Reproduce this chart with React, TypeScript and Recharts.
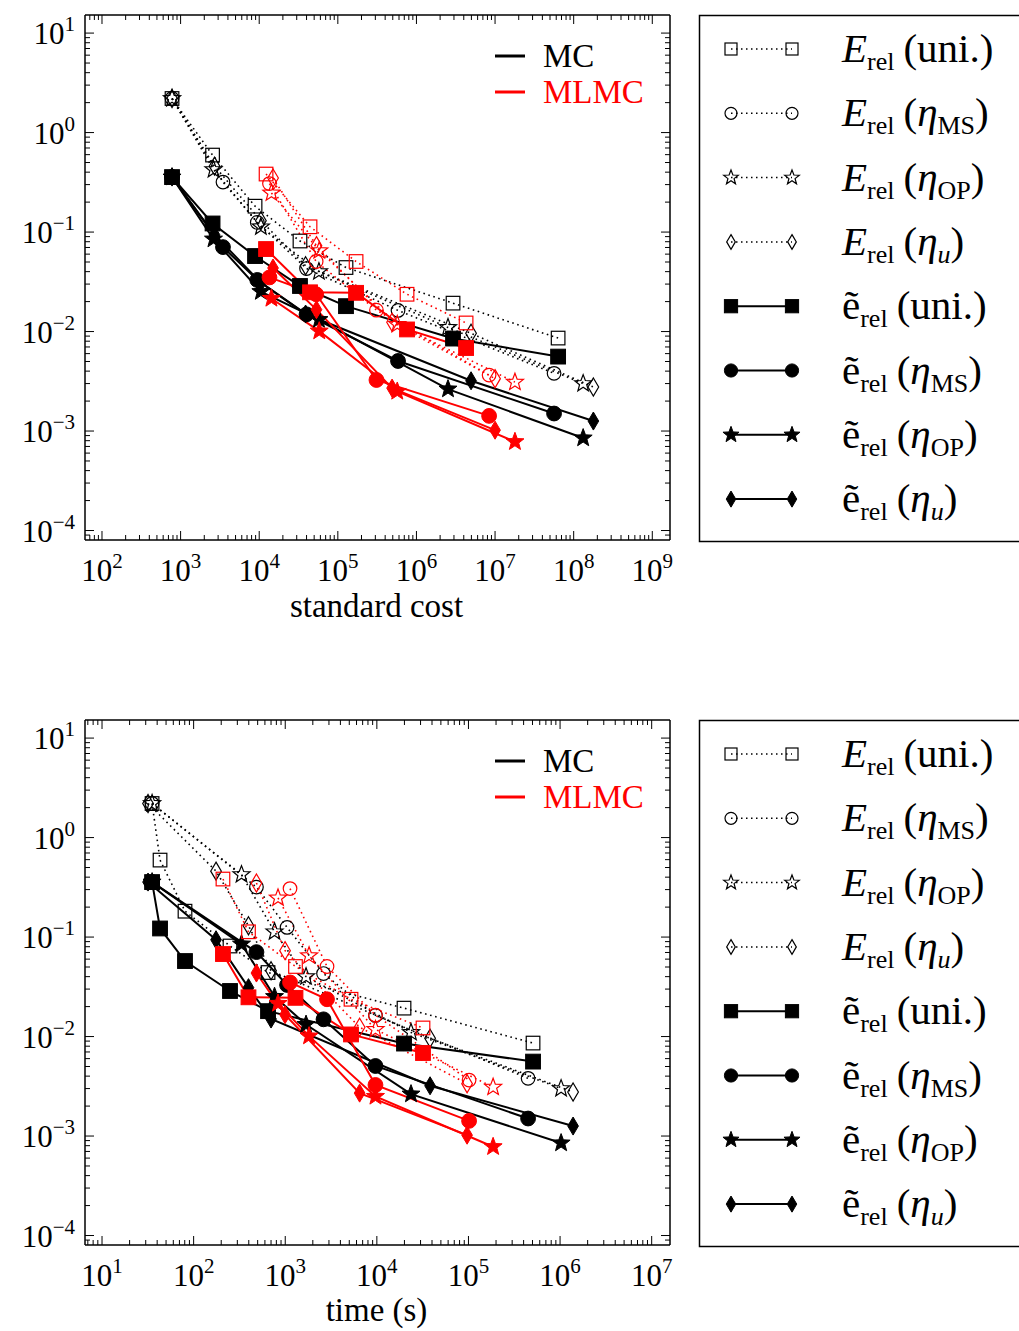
import React from 'react';
import { LineChart, Line, XAxis, YAxis, ReferenceLine, Legend } from 'recharts';

// ---------------- DATA ----------------
// Monte Carlo (MC): standard cost and wall time of each run, per estimator
const mcCostUni = [778, 2550, 8850, 33000, 127000, 2.92e6, 6.34e7];
const mcCostMS = [778, 3460, 9450, 40000, 583000, 5.63e7];
const mcCostOP = [778, 2620, 10500, 57500, 2.52e6, 1.32e8];
const mcCostU = [778, 2700, 10500, 38900, 4.95e6, 1.78e8];

const mcTimeUni = [35.2, 43.0, 80.5, 249.5, 649, 19800, 507000];
const mcTimeMS = [35.2, 485, 1047, 2618, 9660, 447700];
const mcTimeOP = [35.2, 333, 764, 1687, 23600, 1.026e6];
const mcTimeU = [31.8, 175.6, 397, 700, 38100, 1.387e6];

// MC errors: E_rel (dotted, open markers) and e~_rel (solid, filled markers)
const mcEUni = [2.2, 0.594, 0.182, 0.0813, 0.044, 0.0193, 0.0086];
const mcEMS = [2.2, 0.318, 0.125, 0.043, 0.0163, 0.0038];
const mcEOP = [2.2, 0.425, 0.113, 0.04, 0.011, 0.003];
const mcEU = [2.2, 0.46, 0.13, 0.0458, 0.0096, 0.00277];

const mcETildeUni = [0.357, 0.122, 0.0574, 0.0287, 0.018, 0.0085, 0.0056];
const mcETildeMS = [0.357, 0.0706, 0.033, 0.0149, 0.00506, 0.0015];
const mcETildeOP = [0.357, 0.085, 0.0252, 0.0132, 0.00264, 0.00085];
const mcETildeU = [0.357, 0.094, 0.031, 0.015, 0.0032, 0.00126];

// Multilevel Monte Carlo (MLMC)
const mlmcCostUni = [12220, 44300, 170600, 759000, 4.28e6];
const mlmcCostMS = [13500, 53000, 310000, 8.4e6];
const mlmcCostOP = [14300, 58000, 570000, 1.79e7];
const mlmcCostU = [14990, 53500, 489700, 1.0e7];

const mlmcTimeUni = [209, 397, 1294, 5224, 31900];
const mlmcTimeMS = [1128, 2858, 9660, 101600];
const mlmcTimeOP = [834, 1820, 9660, 185800];
const mlmcTimeU = [485, 995, 6486, 96600];

const mlmcEUni = [0.383, 0.113, 0.0506, 0.0237, 0.0122];
const mlmcEMS = [0.307, 0.0506, 0.0164, 0.00365];
const mlmcEOP = [0.247, 0.065, 0.0118, 0.0031];
const mlmcEU = [0.349, 0.073, 0.0124, 0.00336];

const mlmcETildeUni = [0.0675, 0.0248, 0.0245, 0.0105, 0.00683];
const mlmcETildeMS = [0.035, 0.0237, 0.00326, 0.00142];
const mlmcETildeOP = [0.0215, 0.0101, 0.0025, 0.00078];
const mlmcETildeU = [0.0435, 0.0166, 0.0027, 0.00102];

// axis tick labels (powers of ten)
const costMajorTicks = [1e2, 1e3, 1e4, 1e5, 1e6, 1e7, 1e8, 1e9];
const timeMajorTicks = [1e1, 1e2, 1e3, 1e4, 1e5, 1e6, 1e7];
const errMajorTicks = [1e-4, 1e-3, 1e-2, 1e-1, 1e0, 1e1];

const costDomain = [60.8, 1.68e9];
const timeDomain = [6.52, 1.585e7];
const errDomain = [8.03e-5, 15.2];

const seriesLabels = ['MC', 'MLMC'];
const estimatorLabels = ['uni.', 'MS', 'OP', 'u'];

// ---------------- STYLE ----------------
const FONT = '"Liberation Serif", "DejaVu Serif", serif';
const BLACK = '#000000';
const RED = '#ff0000';
const shapes = ['square', 'circle', 'star', 'diamond'];

const PLOT_LEFT = 85;
const PLOT_RIGHT = 670;
const PLOT_TOP = 15;
const PLOT_H = 525;
const PLOT_BOTTOM = PLOT_TOP + PLOT_H;
const WIDTH = 1019;

function withMinors(majors: number[], domain: number[]) {
  const lo = Math.floor(Math.log10(domain[0]));
  const hi = Math.ceil(Math.log10(domain[1]));
  const out: number[] = [];
  for (let k = lo; k <= hi; k++) {
    for (let m = 1; m <= 9; m++) {
      const v = m === 1 ? Math.pow(10, k) : m * Math.pow(10, k);
      if (v >= domain[0] && v <= domain[1]) out.push(v);
    }
  }
  majors.forEach((v) => {
    if (!out.some((o) => Math.abs(o - v) / v < 1e-9)) out.push(v);
  });
  return out.sort((a, b) => a - b);
}

const fmtExp = (n: number) => (n < 0 ? '\u2212' + Math.abs(n) : String(n));
const isMajor = (v: number) => {
  const lg = Math.log10(v);
  return Math.abs(lg - Math.round(lg)) < 1e-6;
};

function Marker({ shape, cx, cy, filled, color, s }: any) {
  const fill = filled ? color : 'none';
  const sw = filled ? 1 : 1.2;
  if (shape === 'square') {
    return <rect x={cx - s} y={cy - s} width={2 * s} height={2 * s} fill={fill} stroke={color} strokeWidth={sw} />;
  }
  if (shape === 'circle') {
    return <circle cx={cx} cy={cy} r={s} fill={fill} stroke={color} strokeWidth={sw} />;
  }
  if (shape === 'diamond') {
    const w = s * 0.72;
    const h = s * 1.22;
    return (
      <path
        d={`M${cx},${cy - h}L${cx + w},${cy}L${cx},${cy + h}L${cx - w},${cy}Z`}
        fill={fill}
        stroke={color}
        strokeWidth={sw}
      />
    );
  }
  // star
  const R = s * 1.28;
  const r = R * 0.42;
  let d = '';
  for (let i = 0; i < 10; i++) {
    const rad = i % 2 === 0 ? R : r;
    const a = -Math.PI / 2 + (i * Math.PI) / 5;
    d += (i === 0 ? 'M' : 'L') + (cx + rad * Math.cos(a)).toFixed(2) + ',' + (cy + rad * Math.sin(a)).toFixed(2);
  }
  d += 'Z';
  return <path d={d} fill={fill} stroke={color} strokeWidth={sw} strokeLinejoin="miter" />;
}

const dotFn = (shape: string, filled: boolean, color: string, s: number) => (p: any) => {
  if (p.cx == null || p.cy == null) return <g key={`e${p.index}`} />;
  return <Marker key={`m${p.index}`} shape={shape} cx={p.cx} cy={p.cy} filled={filled} color={color} s={s} />;
};

const markerSize = (shape: string, filled: boolean) => {
  if (shape === 'square') return filled ? 7.4 : 6.8;
  if (shape === 'circle') return filled ? 7.4 : 6.8;
  if (shape === 'star') return filled ? 7.4 : 7.0;
  return 7.4;
};

const XTick = (props: any) => {
  const { x, payload } = props;
  const v = payload.value;
  const major = isMajor(v);
  const len = major ? 9 : 5;
  return (
    <g>
      <line x1={x} x2={x} y1={PLOT_BOTTOM} y2={PLOT_BOTTOM - len} stroke={BLACK} strokeWidth={1} />
      <line x1={x} x2={x} y1={PLOT_TOP} y2={PLOT_TOP + len} stroke={BLACK} strokeWidth={1} />
      {major && (
        <text x={x} y={PLOT_BOTTOM + 41} textAnchor="middle" fontFamily={FONT} fontSize={31} fill={BLACK}>
          10
          <tspan dy={-13} fontSize={21}>
            {fmtExp(Math.round(Math.log10(v)))}
          </tspan>
        </text>
      )}
    </g>
  );
};

const YTick = (props: any) => {
  const { y, payload } = props;
  const v = payload.value;
  const major = isMajor(v);
  const len = major ? 9 : 5;
  return (
    <g>
      <line x1={PLOT_LEFT} x2={PLOT_LEFT + len} y1={y} y2={y} stroke={BLACK} strokeWidth={1} />
      <line x1={PLOT_RIGHT} x2={PLOT_RIGHT - len} y1={y} y2={y} stroke={BLACK} strokeWidth={1} />
      {major && (
        <text x={PLOT_LEFT - 10} y={y + 11} textAnchor="end" fontFamily={FONT} fontSize={31} fill={BLACK}>
          10
          <tspan dy={-13} fontSize={21}>
            {fmtExp(Math.round(Math.log10(v)))}
          </tspan>
        </text>
      )}
    </g>
  );
};

const AxisTitle = ({ text, baseline }: any) => (
  <text
    x={(PLOT_LEFT + PLOT_RIGHT) / 2 - 1}
    y={baseline}
    textAnchor="middle"
    fontFamily={FONT}
    fontSize={33}
    fill={BLACK}
  >
    {text}
  </text>
);

function LegendLabel({ i, x, y }: any) {
  const tilde = i >= 4;
  const k = i % 4;
  const est = estimatorLabels[k];
  const fs = 41;
  const sub = 26;
  const dd = 8;
  return (
    <text x={x} y={y} fontFamily={FONT} fontSize={fs} fill={BLACK}>
      {tilde ? <tspan>{'\u1EBD'}</tspan> : <tspan fontStyle="italic">E</tspan>}
      <tspan fontSize={sub} dy={dd}>rel</tspan>
      {k === 0 ? (
        <tspan dy={-dd} dx={9}>{'(' + est + ')'}</tspan>
      ) : (
        <>
          <tspan dy={-dd} dx={9}>{'('}</tspan>
          <tspan fontStyle="italic">{'\u03B7'}</tspan>
          <tspan fontSize={sub} dy={dd} fontStyle={k === 3 ? 'italic' : 'normal'}>
            {est}
          </tspan>
          <tspan dy={-dd}>)</tspan>
        </>
      )}
    </text>
  );
}

const LegendOverlay = ({ height, titleText, titleBaseline }: any) => {
  const rows = [0, 1, 2, 3, 4, 5, 6, 7];
  return (
    <svg width={WIDTH} height={height} style={{ display: 'block' }}>
      {/* MC / MLMC key inside the plot */}
      <line x1={495} x2={525} y1={56} y2={56} stroke={BLACK} strokeWidth={3} />
      <text x={543} y={67} fontFamily={FONT} fontSize={33} fill={BLACK}>
        {seriesLabels[0]}
      </text>
      <line x1={495} x2={525} y1={92} y2={92} stroke={RED} strokeWidth={3} />
      <text x={543} y={103} fontFamily={FONT} fontSize={33} fill={RED}>
        {seriesLabels[1]}
      </text>
      {/* estimator key box */}
      <rect x={699.5} y={15.5} width={340} height={526} fill="#ffffff" stroke={BLACK} strokeWidth={1.5} />
      {rows.map((i) => {
        const cy = 49 + i * 64.3;
        const filled = i >= 4;
        const shape = shapes[i % 4];
        const s = filled ? 6.6 : 6.0;
        return (
          <g key={i}>
            <line
              x1={731}
              x2={792}
              y1={cy}
              y2={cy}
              stroke={BLACK}
              strokeWidth={filled ? 2 : 1.5}
              strokeDasharray={filled ? undefined : '1.5 3.5'}
            />
            <Marker shape={shape} cx={731} cy={cy} filled={filled} color={BLACK} s={s} />
            <Marker shape={shape} cx={792} cy={cy} filled={filled} color={BLACK} s={s} />
            <LegendLabel i={i} x={842} y={cy + 13} />
          </g>
        );
      })}
      {/* x-axis title */}
      <AxisTitle text={titleText} baseline={titleBaseline} />
    </svg>
  );
};

type Spec = { xs: number[]; ys: number[]; shape: string; filled: boolean; color: string };

function buildSeries(
  mcX: number[][],
  mlmcX: number[][],
  mcE: number[][],
  mcT: number[][],
  mlE: number[][],
  mlT: number[][]
): Spec[] {
  const out: Spec[] = [];
  for (let k = 0; k < 4; k++) out.push({ xs: mcX[k], ys: mcE[k], shape: shapes[k], filled: false, color: BLACK });
  for (let k = 0; k < 4; k++) out.push({ xs: mcX[k], ys: mcT[k], shape: shapes[k], filled: true, color: BLACK });
  for (let k = 0; k < 4; k++) out.push({ xs: mlmcX[k], ys: mlE[k], shape: shapes[k], filled: false, color: RED });
  for (let k = 0; k < 4; k++) out.push({ xs: mlmcX[k], ys: mlT[k], shape: shapes[k], filled: true, color: RED });
  return out;
}

const mcEAll = [mcEUni, mcEMS, mcEOP, mcEU];
const mcTAll = [mcETildeUni, mcETildeMS, mcETildeOP, mcETildeU];
const mlEAll = [mlmcEUni, mlmcEMS, mlmcEOP, mlmcEU];
const mlTAll = [mlmcETildeUni, mlmcETildeMS, mlmcETildeOP, mlmcETildeU];

const costSeries = buildSeries(
  [mcCostUni, mcCostMS, mcCostOP, mcCostU],
  [mlmcCostUni, mlmcCostMS, mlmcCostOP, mlmcCostU],
  mcEAll,
  mcTAll,
  mlEAll,
  mlTAll
);
const timeSeries = buildSeries(
  [mcTimeUni, mcTimeMS, mcTimeOP, mcTimeU],
  [mlmcTimeUni, mlmcTimeMS, mlmcTimeOP, mlmcTimeU],
  mcEAll,
  mcTAll,
  mlEAll,
  mlTAll
);

function Panel({ series, xDomain, xMajors, title, height, titleBaseline }: any) {
  const xTicks = withMinors(xMajors, xDomain);
  const yTicks = withMinors(errMajorTicks, errDomain);
  const xAxisH = height - PLOT_TOP - PLOT_H;
  return (
    <LineChart
      width={WIDTH}
      height={height}
      margin={{ top: PLOT_TOP, right: WIDTH - PLOT_RIGHT, bottom: 0, left: 0 }}
    >
      <XAxis
        type="number"
        dataKey="x"
        scale="log"
        domain={xDomain}
        allowDataOverflow
        ticks={xTicks}
        interval={0}
        tick={<XTick />}
        tickLine={false}
        tickSize={0}
        tickMargin={0}
        height={xAxisH}
        axisLine={{ stroke: BLACK, strokeWidth: 1.5 }}
      />
      <YAxis
        type="number"
        dataKey="y"
        scale="log"
        domain={errDomain}
        allowDataOverflow
        ticks={yTicks}
        interval={0}
        tick={<YTick />}
        tickLine={false}
        tickSize={0}
        tickMargin={0}
        width={PLOT_LEFT}
        axisLine={{ stroke: BLACK, strokeWidth: 1.5 }}
      />
      <ReferenceLine y={errDomain[1]} stroke={BLACK} strokeWidth={1.5} ifOverflow="visible" />
      <ReferenceLine x={xDomain[1]} stroke={BLACK} strokeWidth={1.5} ifOverflow="visible" />
      {series.map((s: Spec, i: number) => (
        <Line
          key={i}
          data={s.xs.map((x, j) => ({ x, y: s.ys[j] }))}
          dataKey="y"
          type="linear"
          stroke={s.color}
          strokeWidth={s.filled ? 2 : 1.6}
          strokeDasharray={s.filled ? undefined : '1.6 3.6'}
          dot={dotFn(s.shape, s.filled, s.color, markerSize(s.shape, s.filled))}
          activeDot={false}
          isAnimationActive={false}
          legendType="none"
        />
      ))}
      <Legend
        layout="vertical"
        align="center"
        verticalAlign="middle"
        content={() => <LegendOverlay height={height} titleText={title} titleBaseline={titleBaseline} />}
        wrapperStyle={{ left: 0, top: 0, width: WIDTH, height, pointerEvents: 'none' }}
      />
    </LineChart>
  );
}

export default function App() {
  return (
    <div style={{ position: 'absolute', left: 0, top: 0, width: WIDTH, height: 1331, background: '#fff' }}>
      <div style={{ position: 'absolute', left: 0, top: 0 }}>
        <Panel
          series={costSeries}
          xDomain={costDomain}
          xMajors={costMajorTicks}
          title="standard cost"
          height={640}
          titleBaseline={617}
        />
      </div>
      <div style={{ position: 'absolute', left: 0, top: 705 }}>
        <Panel
          series={timeSeries}
          xDomain={timeDomain}
          xMajors={timeMajorTicks}
          title="time (s)"
          height={626}
          titleBaseline={616}
        />
      </div>
    </div>
  );
}
